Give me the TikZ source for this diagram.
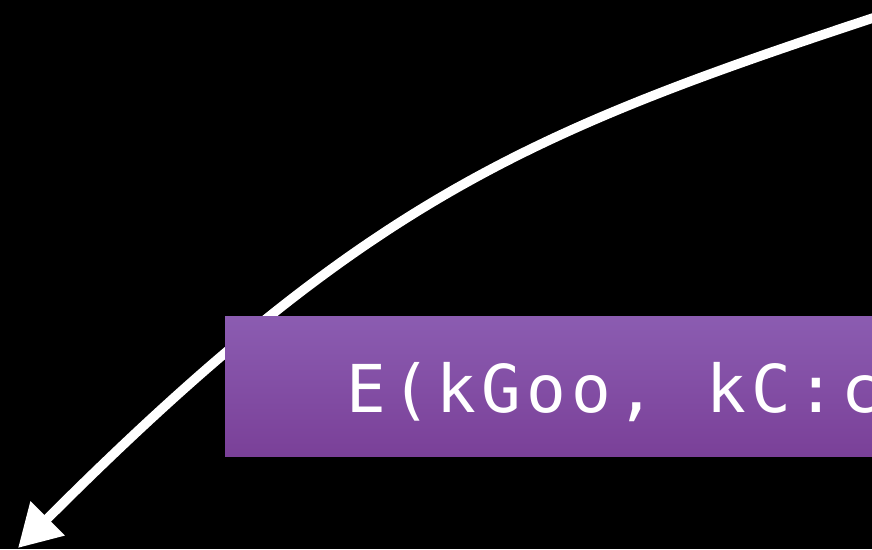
\documentclass[tikz,border=0pt]{standalone}
\usepackage{fontspec}
\newfontfamily\codefont{DejaVu Sans Mono}
\usetikzlibrary{arrows.meta}
% one fixed-width cell per character
\newcommand\cell[1]{\makebox[45pt][c]{#1}}
\definecolor{boxtop}{HTML}{8B5CB1}
\definecolor{boxbot}{HTML}{7A4098}
\tikzset{
  flow/.style={draw=white, line width=9.5pt, -{Triangle[length=42pt,width=46pt]}},
  codebox/.style={top color=boxtop, bottom color=boxbot, draw=none},
  code/.style={text=white, inner sep=0pt, anchor=base west, font=\codefont\fontsize{66}{66}\selectfont}
}
\begin{document}
\begin{tikzpicture}[x=1pt,y=1pt]
  \useasboundingbox (0,0) rectangle (872,549);
  \fill[black] (0,0) rectangle (872,549);
  \clip (0,0) rectangle (872,549);
  % curved connector running under the box
  \coordinate (src) at (882,534);
  \coordinate (dst) at (18,1);
  \draw[flow] (src) .. controls (530,418) and (368,351) .. (dst);
  % purple label box, cut by the right edge
  \path[codebox] (225,93) rectangle (890,232);
  \coordinate (txt) at (343.5,137);
  \node[code] (label) at (txt) {\cell{E}\cell{(}\cell{k}\cell{G}\cell{o}\cell{o}\cell{,}\cell{~}\cell{k}\cell{C}\cell{:}\cell{c}};
\end{tikzpicture}
\end{document}
